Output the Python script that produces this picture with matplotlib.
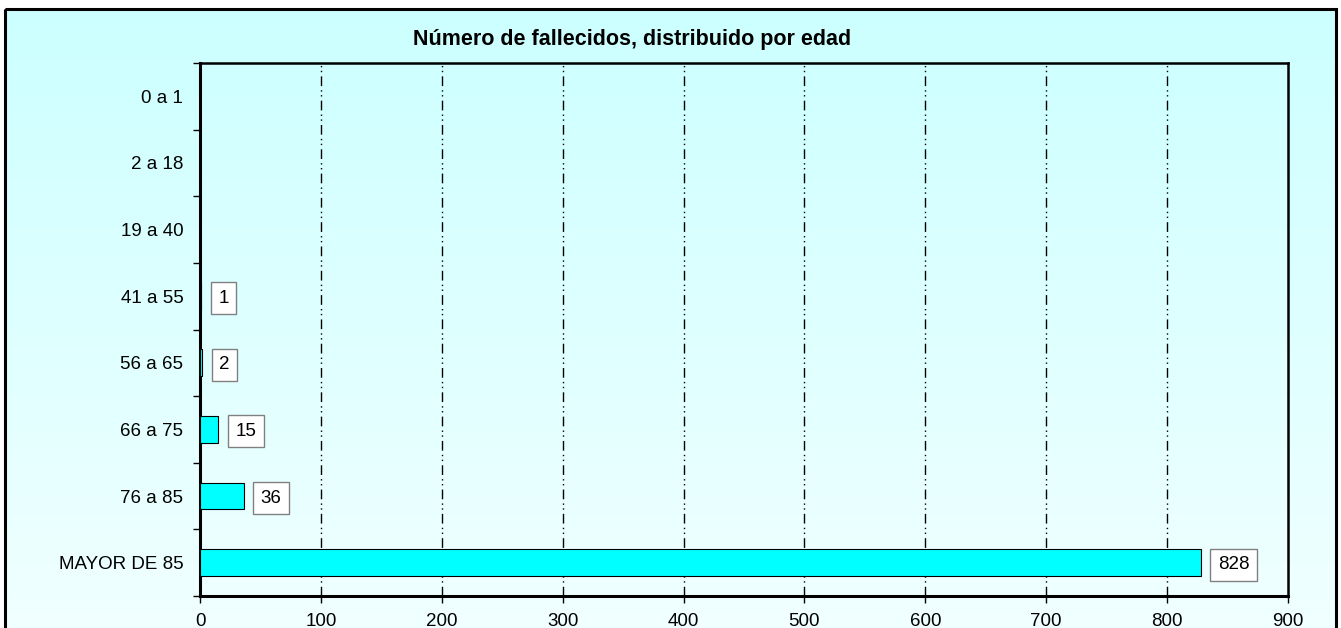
import numpy as np
import matplotlib
matplotlib.use("Agg")
import matplotlib.pyplot as plt
import matplotlib as mpl
from matplotlib.patches import Rectangle

mpl.rcParams.update({
    "font.family": ["Liberation Sans", "DejaVu Sans"],
    "font.size": 13.5,
})

categories = ["0 a 1", "2 a 18", "19 a 40", "41 a 55", "56 a 65",
              "66 a 75", "76 a 85", "MAYOR DE 85"]
deaths = [0, 0, 0, 1, 2, 15, 36, 828]
x_ticks = [0, 100, 200, 300, 400, 500, 600, 700, 800, 900]

W, H = 1341, 628
fig = plt.figure(figsize=(W / 100, H / 100), dpi=100)
fig.patch.set_facecolor("white")

# gradient background inside the outer frame
bg = fig.add_axes([0, 0, 1, 1], zorder=-10)
bg.axis("off")
grad = np.linspace(0, 1, 256).reshape(-1, 1)
top = np.array([204, 255, 255]) / 255
bot = np.array([245, 255, 255]) / 255
img = top[None, None, :] * (1 - grad[:, :, None]) + bot[None, None, :] * grad[:, :, None]
bg.imshow(img, extent=[5, 1336, 700, 9], aspect="auto")
bg.add_patch(Rectangle((5, 9), 1331, 700, fill=False, edgecolor="black", linewidth=2.2))
bg.set_xlim(0, W)
bg.set_ylim(H, 0)

ax = fig.add_axes([200 / W, 1 - 596 / H, 1088 / W, 533 / H])
ax.set_facecolor("none")

y = np.arange(len(categories))
ax.barh(y, deaths, height=0.4, color="#00FFFF", edgecolor="black", linewidth=0.8, zorder=3)

for yi, v in zip(y, deaths):
    if v > 0:
        ax.annotate(str(v), (v, yi), xytext=(17, -2), textcoords="offset pixels",
                    ha="left", va="center", fontsize=13.5, zorder=4,
                    bbox=dict(boxstyle="square,pad=0.4", facecolor="white",
                              edgecolor="#808080", linewidth=1))

ax.set_xlim(0, 900)
ax.set_ylim(len(categories) - 0.5, -0.5)
ax.set_xticks(x_ticks)
ax.set_xticklabels([str(t) for t in x_ticks])
ax.set_yticks(y)
ax.set_yticklabels(categories)
ax.set_yticks(np.arange(-0.5, len(categories), 1), minor=True)
ax.tick_params(axis="y", which="major", length=0, pad=12)
ax.tick_params(axis="y", which="minor", length=5, width=1, direction="out")
ax.tick_params(axis="x", length=5, width=1, direction="out", pad=7)

for t in x_ticks[1:-1]:
    ax.axvline(t, color="black", linewidth=1, linestyle=(0, (7, 3, 1, 2.5, 1, 3)), zorder=1)

for side in ["left", "bottom"]:
    ax.spines[side].set_linewidth(2.2)
for side in ["top", "right"]:
    ax.spines[side].set_linewidth(1.8)

fig.text(632 / W, 1 - 39 / H, "Número de fallecidos, distribuido por edad",
         ha="center", va="center", fontsize=15.5, fontweight="bold")

fig.savefig("out.png", dpi=100)
